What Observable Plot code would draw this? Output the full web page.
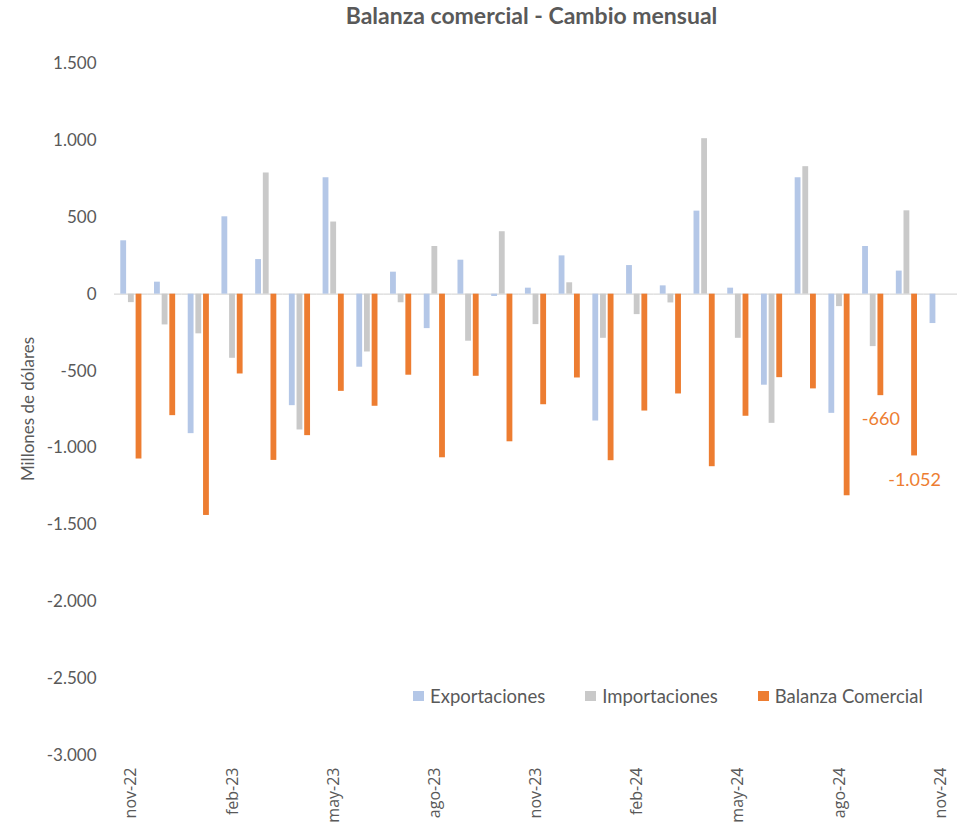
<!DOCTYPE html>
<html>
<head>
<meta charset="utf-8">
<script src="https://cdn.jsdelivr.net/npm/d3@7"></script>
<script src="https://cdn.jsdelivr.net/npm/@observablehq/plot@0.6"></script>
<style>
  body { margin: 0; background: #fff; }
  #wrap { position: relative; width: 967px; height: 833px; font-family: Lato, "Open Sans", sans-serif; }
  #title { height: 32px; width: 967px; text-align: center; font-weight: bold; font-size: 23px; color: #595959; line-height: 31px; box-sizing: border-box; padding-left: 106px; padding-right: 10px; }
  #ylab { position: absolute; left: 27px; top: 409px; transform: translate(-50%, -50%) rotate(-90deg); font-size: 17px; color: #595959; white-space: nowrap; }
  #legend { position: absolute; top: 685px; left: 413px; font-size: 18.5px; color: #595959; display: flex; align-items: center; white-space: nowrap; }
  #legend span.sw { display: inline-block; width: 11px; height: 10px; margin-right: 6px; }
  #legend span.it { margin-right: 40px; display: inline-flex; align-items: center; }
</style>
</head>
<body>
<div id="wrap">
  <div id="title">Balanza comercial - Cambio mensual</div>
  <div id="chart"></div>
  <div id="ylab">Millones de dólares</div>
  <div id="legend"></div>
</div>
<script>
const months = ["nov-22","dic-22","ene-23","feb-23","mar-23","abr-23","may-23","jun-23","jul-23","ago-23","sep-23","oct-23","nov-23","dic-23","ene-24","feb-24","mar-24","abr-24","may-24","jun-24","jul-24","ago-24","sep-24","oct-24","nov-24"];
const seriesNames = ["Exportaciones","Importaciones","Balanza Comercial"];
const exportaciones = [347,78,-907,503,225,-725,757,-475,143,-224,221,-15,39,249,-825,186,54,540,39,-592,757,-775,310,150,-191];
const importaciones = [-55,-200,-258,-417,788,-883,469,-376,-56,310,-306,406,-198,74,-287,-133,-57,1011,-287,-840,829,-81,-341,542,null];
const balanza = [-1072,-790,-1439,-519,-1081,-920,-632,-729,-527,-1064,-534,-960,-719,-545,-1083,-760,-649,-1122,-794,-543,-616,-1311,-660,-1052,null];
const labeledMonths = ["sep-24","oct-24"];
const colors = ["#B4C7E7","#C9C9C9","#ED7D31"];
const yTicks = [1500,1000,500,0,-500,-1000,-1500,-2000,-2500,-3000];

const locale = d3.formatLocale({decimal: ",", thousands: ".", grouping: [3], currency: ["$",""], minus: "-"});
const fmt = locale.format(",");

const data = [];
months.forEach((m, i) => {
  [exportaciones, importaciones, balanza].forEach((arr, j) => {
    if (arr[i] != null) data.push({month: m, series: seriesNames[j], value: arr[i]});
  });
});
const labels = data.filter(d => d.series === "Balanza Comercial" && labeledMonths.includes(d.month));

const plot = Plot.plot({
  width: 967,
  height: 801,
  marginLeft: 114,
  marginRight: 10,
  marginTop: 31,
  marginBottom: 78,
  style: {fontFamily: "Lato, sans-serif", background: "white"},
  fx: {domain: months, padding: 0, round: false},
  x: {domain: seriesNames, axis: null, paddingInner: 0.24, paddingOuter: 0.82, round: false},
  y: {domain: [-3000, 1500], nice: false},
  color: {domain: seriesNames, range: colors},
  marks: [
    Plot.ruleY([0], {stroke: "#D9D9D9", strokeWidth: 1.3}),
    Plot.barY(data, {fx: "month", x: "series", y: "value", fill: "series"}),
    Plot.text(labels, {fx: "month", x: "series", y: "value", text: d => fmt(d.value), dy: 24, fill: "#ED7D31", fontSize: 18}),
    Plot.axisY({ticks: yTicks, tickFormat: fmt, tickSize: 0, tickPadding: 18, fontSize: 17, fill: "#595959", label: null}),
    Plot.axisFx({anchor: "bottom", tickSize: 0, tickPadding: 12, tickRotate: -90, fontSize: 16, fill: "#595959", fontFamily: "'Open Sans', sans-serif", label: null,
      tickFormat: (d) => months.indexOf(d) % 3 === 0 ? d : ""})
  ]
});
document.getElementById("chart").appendChild(plot);

const lg = document.getElementById("legend");
seriesNames.forEach((s, i) => {
  const it = document.createElement("span");
  it.className = "it";
  const sw = document.createElement("span");
  sw.className = "sw";
  sw.style.background = colors[i];
  it.appendChild(sw);
  it.appendChild(document.createTextNode(s));
  lg.appendChild(it);
});
</script>
</body>
</html>
